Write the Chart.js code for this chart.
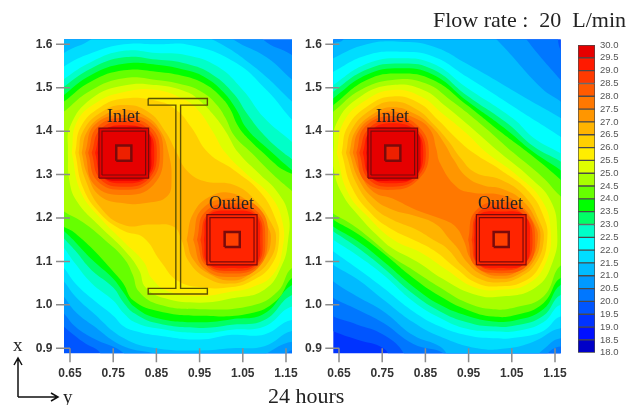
<!DOCTYPE html>
<html>
<head>
<meta charset="utf-8">
<title>Flow rate 20 L/min</title>
<script src="https://cdn.jsdelivr.net/npm/chart.js@4"></script>
<style>
    html, body { margin: 0; padding: 0; background: #fff; }
    body { width: 643px; height: 405px; position: relative; overflow: hidden; }
    canvas { position: absolute; filter: blur(0.6px); }
    #leftChart { left: 0; top: 30px; }
    #rightChart { left: 300px; top: 30px; }
    #barChart { left: 565px; top: 35px; }
    .txt { position: absolute; font-family: "Liberation Serif", serif; color: #222; white-space: pre; line-height: 1; }
    svg { position: absolute; left: 0; top: 0; }
</style>
</head>
<body>
<canvas id="leftChart" width="298" height="375"></canvas>
<canvas id="rightChart" width="278" height="375"></canvas>
<canvas id="barChart" width="78" height="330"></canvas>

<div class="txt" style="left:433px;top:9px;font-size:22px">Flow rate :  20  L/min</div>
<div class="txt" style="left:107px;top:107px;font-size:18px">Inlet</div>
<div class="txt" style="left:209px;top:194px;font-size:18px">Outlet</div>
<div class="txt" style="left:376px;top:107px;font-size:18px">Inlet</div>
<div class="txt" style="left:478px;top:194px;font-size:18px">Outlet</div>
<div class="txt" style="left:268px;top:385px;font-size:22px">24 hours</div>
<div class="txt" style="left:13px;top:335px;font-size:19px">x</div>
<div class="txt" style="left:63px;top:387px;font-size:19px">y</div>
<svg width="80" height="405">
    <path d="M18 397V359M14 365L18 358L22 365M18 397H57M51 393L58 397L51 401" fill="none" stroke="#111" stroke-width="1.5"/>
</svg>

<script>
const xTicks = [0.65, 0.75, 0.85, 0.95, 1.05, 1.15];
const yTicks = [0.9, 1.0, 1.1, 1.2, 1.3, 1.4, 1.5, 1.6];
const legendTicks = [18, 18.5, 19, 19.5, 20, 20.5, 21, 21.5, 22, 22.5, 23, 23.5, 24, 24.5, 25, 25.5, 26, 26.5, 27, 27.5, 28, 28.5, 29, 29.5, 30];

// one colour per 0.5 band, starting at 18.0-18.5
const bandColors = ['#0000c8', '#0010ff', '#0033ff', '#0055ff', '#0077ff', '#0099ff', '#00bbff', '#00ddff',
    '#00ffff', '#00ffc8', '#00ff66', '#00ff00', '#66ff00', '#a8ff00', '#deff00', '#ffee00',
    '#ffd000', '#ffb400', '#ff9600', '#ff7800', '#ff5a00', '#ff3a00', '#ff1a00', '#e60000'];

// contour outlines, x,y,x,y... the region inside is hotter than the level
// left panel
const L195 = [.62,1.65, 1.19,1.65, 1.19,.87, .62,.87];
const L20 = [.62,1.65, 1.19,1.65, 1.19,.87, .70,.87, .72,.888, .68,.915, .636,.95, .62,.965];
const L205 = [.62,1.65, 1.08,1.65, 1.097,1.611, 1.164,1.575, 1.19,1.55, 1.19,.885, 1.164,.896, 1.13,.87, .76,.87, .775,.888, .70,.925, .662,.95, .636,.98, .62,.995];
const L21 = [.62,1.60, .636,1.611, .65,1.64, 1.0,1.64, 1.028,1.611, 1.105,1.57, 1.164,1.518, 1.19,1.495, 1.19,.90, 1.164,.915, 1.10,.885, 1.08,.87, .83,.87, .85,.885, .775,.904, .70,.955, .662,.985, .636,1.019, .62,1.035];
const L215 = [.62,1.56, .636,1.58, .70,1.612, .72,1.64, .90,1.64, .98,1.611, 1.074,1.55, 1.164,1.468, 1.19,1.44, 1.19,.925, 1.164,.94, 1.10,.905, 1.025,.90, .95,.895, .85,.90, .775,.923, .70,.985, .662,1.02, .636,1.054, .62,1.07];
const L22 = [.62,1.53, .636,1.549, .70,1.58, .775,1.60, .85,1.60, .93,1.598, 1.03,1.56, 1.105,1.495, 1.164,1.426, 1.19,1.40, 1.19,.945, 1.164,.965, 1.10,.932, 1.025,.931, .95,.92, .85,.93, .80,.94, .775,.95, .75,.975, .70,1.015, .662,1.05, .636,1.085, .62,1.10];
const L225 = [.62,1.505, .636,1.52, .70,1.56, .775,1.585, .85,1.58, .92,1.575, .99,1.55, 1.05,1.495, 1.10,1.43, 1.164,1.375, 1.19,1.35, 1.19,.975, 1.164,.996, 1.10,.95, 1.025,.943, .95,.935, .85,.946, .80,.96, .775,.98, .75,1.01, .70,1.05, .662,1.095, .636,1.131, .62,1.15];
const L23 = [.62,1.485, .636,1.502, .70,1.545, .775,1.57, .85,1.565, .92,1.555, .98,1.53, 1.03,1.485, 1.06,1.44, 1.10,1.39, 1.144,1.35, 1.164,1.335, 1.19,1.31, 1.19,1.005, 1.164,1.023, 1.10,.965, 1.025,.954, .95,.947, .85,.958, .80,.98, .775,1.004, .75,1.04, .70,1.08, .662,1.125, .636,1.153, .62,1.17];
const L235 = [.62,1.465, .636,1.483, .70,1.53, .775,1.555, .85,1.553, .92,1.54, .966,1.522, 1.005,1.49, 1.035,1.45, 1.06,1.405, 1.113,1.355, 1.164,1.31, 1.19,1.29, 1.19,1.03, 1.164,1.046, 1.10,.98, 1.025,.967, .95,.96, .85,.97, .80,.995, .775,1.027, .75,1.06, .70,1.105, .662,1.145, .636,1.17, .62,1.185];
const L24 = [.62,1.455, .636,1.468, .70,1.515, .775,1.54, .85,1.537, .92,1.525, .966,1.506, 1.0,1.478, 1.02,1.452, 1.04,1.41, 1.065,1.38, 1.097,1.35, 1.13,1.32, 1.18,1.28, 1.18,1.05, 1.164,1.062, 1.128,1.01, 1.066,.98, .951,.975, .858,.985, .797,1.01, .773,1.05, .75,1.077, .704,1.127, .662,1.165, .62,1.2];
const L245 = [.62,1.43, .636,1.445, .70,1.495, .775,1.522, .85,1.518, .92,1.505, .96,1.487, .99,1.46, 1.01,1.43, 1.03,1.39, 1.07,1.35, 1.12,1.30, 1.164,1.262, 1.19,1.24, 1.19,1.07, 1.164,1.085, 1.13,1.03, 1.07,.998, .95,.99, .858,1.0, .81,1.03, .795,1.07, .775,1.107, .73,1.15, .68,1.19, .636,1.215, .62,1.23];
const L25 = [.645,1.35, .65,1.41, .70,1.475, .775,1.505, .85,1.506, .92,1.49, .95,1.47, .98,1.44, 1.01,1.40, 1.04,1.35, 1.09,1.30, 1.13,1.26, 1.155,1.21, 1.155,1.15, 1.14,1.09, 1.10,1.035, 1.025,1.015, .95,1.005, .87,1.015, .825,1.04, .81,1.08, .775,1.127, .72,1.18, .665,1.24, .648,1.29];
const L255 = [.654,1.35, .665,1.42, .71,1.465, .775,1.49, .85,1.495, .91,1.475, .945,1.45, .98,1.40, 1.01,1.35, 1.06,1.30, 1.115,1.25, 1.142,1.19, 1.142,1.13, 1.12,1.07, 1.07,1.04, 1.025,1.031, .95,1.02, .88,1.03, .84,1.06, .82,1.10, .775,1.145, .72,1.20, .675,1.26];
const L26 = [.662,1.35, .675,1.41, .72,1.455, .775,1.475, .85,1.47, .895,1.45, .93,1.41, .97,1.35, 1.03,1.31, 1.09,1.26, 1.125,1.20, 1.134,1.15, 1.115,1.09, 1.07,1.055, 1.025,1.041, .96,1.04, .90,1.055, .86,1.10, .82,1.155, .775,1.17, .72,1.21, .68,1.27];
const L265 = [.67,1.35, .68,1.40, .725,1.445, .775,1.46, .83,1.445, .87,1.40, .897,1.35, .92,1.31, .96,1.285, 1.03,1.276, 1.08,1.24, 1.115,1.19, 1.127,1.15, 1.11,1.10, 1.07,1.065, 1.025,1.049, .97,1.06, .925,1.10, .908,1.15, .89,1.18, .84,1.185, .775,1.184, .72,1.225, .685,1.29];
const L27a = [.677,1.35, .69,1.40, .73,1.437, .775,1.449, .825,1.435, .86,1.40, .878,1.35, .885,1.29, .875,1.25, .83,1.235, .775,1.234, .72,1.25, .69,1.30];
const L27b = [.92,1.15, .935,1.21, .975,1.25, 1.025,1.257, 1.07,1.23, 1.105,1.185, 1.115,1.15, 1.10,1.105, 1.065,1.07, 1.025,1.056, .975,1.07, .935,1.105];
const L275a = [.685,1.35, .707,1.414, .775,1.437, .843,1.414, .866,1.35, .843,1.276, .775,1.253, .707,1.276];
const L275b = [.935,1.15, .955,1.22, 1.025,1.245, 1.09,1.22, 1.108,1.15, 1.085,1.085, 1.025,1.064, .96,1.085];
const L28a = [.692,1.35, .713,1.409, .775,1.43, .837,1.409, .858,1.35, .837,1.286, .775,1.265, .713,1.286];
const L28b = [.944,1.15, .962,1.213, 1.025,1.234, 1.085,1.213, 1.102,1.15, 1.085,1.09, 1.025,1.072, .965,1.09];
const L285a = [.70,1.35, .72,1.404, .775,1.422, .832,1.404, .851,1.35, .832,1.29, .775,1.272, .72,1.29];
const L285b = [.952,1.15, .968,1.208, 1.025,1.226, 1.082,1.208, 1.096,1.15, 1.082,1.093, 1.025,1.078, .968,1.093];
const L29a = [.708,1.35, .725,1.398, .775,1.414, .83,1.398, .845,1.35, .83,1.295, .775,1.28, .725,1.295];
const L29b = [.96,1.15, .97,1.205, 1.025,1.217, 1.08,1.205, 1.09,1.15, 1.08,1.095, 1.025,1.085, .97,1.095];
const L295a = [.714,1.35, .725,1.40, .775,1.41, .828,1.40, .838,1.35, .828,1.297, .775,1.286, .725,1.297];

// right panel
const R190 = [.62,1.65, 1.19,1.65, 1.19,.87, .62,.87];
const R195 = [.62,1.65, 1.19,1.65, 1.19,.87, .78,.87, .753,.90, .691,.92, .637,.939, .62,.95];
const R20 = [.62,1.65, 1.14,1.65, 1.163,1.587, 1.19,1.56, 1.19,.87, .79,.87, .80,.888, .753,.931, .691,.955, .637,.973, .62,.985];
const R205 = [.62,1.65, 1.06,1.65, 1.084,1.611, 1.163,1.518, 1.19,1.49, 1.19,.89, 1.163,.904, 1.13,.885, 1.13,.87, .88,.87, .891,.889, .822,.91, .753,.958, .691,.99, .637,1.016, .62,1.03];
const R21 = [.62,1.59, .637,1.602, .66,1.611, .66,1.64, .98,1.64, 1.015,1.611, 1.121,1.497, 1.163,1.468, 1.19,1.44, 1.19,.905, 1.163,.923, 1.12,.895, 1.09,.87, .92,.87, .884,.904, .822,.93, .753,.985, .691,1.02, .637,1.054, .62,1.07];
const R215 = [.62,1.555, .637,1.568, .714,1.60, .791,1.606, .868,1.595, .946,1.555, 1.093,1.47, 1.163,1.43, 1.19,1.41, 1.19,.93, 1.163,.946, 1.10,.915, 1.04,.90, .97,.90, .884,.927, .822,.96, .753,1.012, .691,1.06, .637,1.092, .62,1.105];
const R22 = [.62,1.525, .637,1.537, .714,1.575, .791,1.583, .868,1.572, .946,1.525, 1.07,1.446, 1.163,1.387, 1.19,1.365, 1.19,.955, 1.163,.973, 1.123,.94, 1.061,.925, 1.007,.923, .946,.93, .884,.95, .822,.985, .753,1.039, .691,1.085, .637,1.123, .62,1.135];
const R225 = [.62,1.49, .637,1.506, .714,1.555, .791,1.568, .868,1.555, .946,1.50, 1.053,1.429, 1.10,1.385, 1.163,1.349, 1.19,1.33, 1.19,.98, 1.163,1.0, 1.123,.96, 1.061,.94, 1.007,.939, .946,.945, .884,.97, .822,1.008, .753,1.069, .691,1.115, .637,1.15, .62,1.165];
const R23 = [.62,1.475, .637,1.491, .714,1.542, .791,1.556, .868,1.542, .946,1.482, 1.041,1.417, 1.10,1.365, 1.163,1.33, 1.19,1.31, 1.19,1.005, 1.163,1.023, 1.123,.975, 1.061,.953, 1.007,.95, .946,.96, .884,.985, .822,1.025, .753,1.085, .691,1.133, .637,1.169, .62,1.18];
const R235 = [.62,1.46, .637,1.476, .714,1.53, .791,1.545, .868,1.53, .946,1.47, 1.032,1.408, 1.10,1.352, 1.163,1.31, 1.19,1.285, 1.19,1.03, 1.163,1.046, 1.123,.99, 1.061,.965, 1.007,.962, .946,.975, .884,1.0, .822,1.042, .753,1.10, .691,1.148, .637,1.18, .62,1.195];
const R24 = [.62,1.445, .637,1.46, .714,1.518, .791,1.533, .868,1.518, .946,1.46, 1.023,1.399, 1.10,1.341, 1.163,1.288, 1.19,1.26, 1.19,1.04, 1.163,1.062, 1.123,1.004, 1.061,.977, 1.007,.973, .946,.989, .884,1.02, .822,1.062, .753,1.119, .691,1.165, .637,1.196, .62,1.21];
const R245 = [.62,1.43, .637,1.445, .70,1.495, .774,1.518, .85,1.51, .91,1.47, .98,1.415, 1.054,1.35, 1.12,1.295, 1.163,1.25, 1.19,1.23, 1.19,1.07, 1.163,1.09, 1.124,1.02, 1.061,.995, 1.007,.99, .946,1.005, .884,1.04, .822,1.08, .774,1.11, .726,1.15, .68,1.185, .637,1.21, .62,1.22];
const R25 = [.636,1.35, .645,1.42, .70,1.48, .774,1.506, .845,1.495, .90,1.455, .96,1.405, 1.023,1.35, 1.09,1.295, 1.14,1.24, 1.155,1.17, 1.145,1.10, 1.105,1.04, 1.025,1.019, .96,1.025, .89,1.06, .83,1.10, .774,1.13, .749,1.15, .70,1.20, .655,1.26, .636,1.32];
const R255 = [.645,1.35, .66,1.42, .71,1.47, .774,1.495, .84,1.48, .89,1.44, .945,1.395, .992,1.35, 1.06,1.30, 1.12,1.24, 1.14,1.17, 1.13,1.10, 1.09,1.05, 1.025,1.035, .965,1.04, .90,1.08, .84,1.12, .776,1.15, .72,1.20, .67,1.26];
const R26 = [.656,1.35, .67,1.41, .72,1.46, .774,1.48, .835,1.465, .88,1.425, .92,1.385, .961,1.35, 1.025,1.31, 1.09,1.26, 1.125,1.20, 1.132,1.15, 1.115,1.09, 1.08,1.055, 1.025,1.043, .97,1.05, .92,1.085, .87,1.125, .822,1.15, .774,1.173, .725,1.21, .68,1.27];
const R265 = [.666,1.35, .68,1.405, .725,1.45, .774,1.468, .83,1.45, .87,1.415, .905,1.375, .93,1.34, .965,1.305, 1.025,1.288, 1.08,1.25, 1.115,1.19, 1.124,1.15, 1.105,1.095, 1.07,1.065, 1.025,1.052, .975,1.06, .935,1.09, .90,1.13, .868,1.15, .825,1.175, .774,1.196, .73,1.225, .69,1.28];
const R27 = [.674,1.35, .688,1.40, .73,1.44, .774,1.455, .825,1.44, .865,1.41, .895,1.37, .915,1.335, .945,1.295, .985,1.275, 1.025,1.268, 1.075,1.24, 1.108,1.19, 1.116,1.15, 1.10,1.10, 1.065,1.07, 1.025,1.06, .98,1.07, .945,1.10, .925,1.13, .907,1.15, .875,1.185, .825,1.205, .774,1.219, .73,1.245, .695,1.29];
const R275 = [.682,1.35, .695,1.40, .735,1.435, .774,1.445, .825,1.43, .861,1.403, .875,1.36, .884,1.326, .922,1.272, .96,1.258, 1.025,1.253, 1.07,1.23, 1.103,1.185, 1.11,1.15, 1.095,1.105, 1.06,1.075, 1.025,1.067, .985,1.075, .955,1.105, .938,1.15, .92,1.18, .892,1.196, .83,1.218, .774,1.245, .73,1.26, .70,1.30];
const R28a = [.69,1.35, .71,1.41, .774,1.435, .835,1.41, .858,1.35, .835,1.29, .774,1.265, .71,1.285];
const R28b = [.949,1.15, .965,1.215, 1.025,1.238, 1.085,1.21, 1.104,1.15, 1.085,1.09, 1.025,1.073, .965,1.09];
const R285a = [.697,1.35, .718,1.405, .774,1.426, .83,1.405, .851,1.35, .83,1.292, .774,1.272, .718,1.29];
const R285b = [.957,1.15, .97,1.21, 1.025,1.226, 1.08,1.205, 1.098,1.15, 1.08,1.095, 1.025,1.079, .97,1.095];
const R29a = [.705,1.35, .722,1.40, .774,1.418, .828,1.40, .845,1.35, .828,1.297, .774,1.28, .722,1.295];
const R29b = [.962,1.15, .972,1.205, 1.025,1.215, 1.08,1.205, 1.092,1.15, 1.08,1.095, 1.025,1.085, .972,1.095];
const R295a = [.713,1.35, .722,1.40, .774,1.409, .828,1.40, .839,1.35, .828,1.297, .774,1.286, .722,1.295];

const leftRings = [[19.5, L195], [20, L20], [20.5, L205], [21, L21], [21.5, L215], [22, L22], [22.5, L225], [23, L23], [23.5, L235], [24, L24], [24.5, L245], [25, L25], [25.5, L255], [26, L26], [26.5, L265], [27, L27a], [27, L27b], [27.5, L275a], [27.5, L275b], [28, L28a], [28, L28b], [28.5, L285a], [28.5, L285b], [29, L29a], [29, L29b], [29.5, L295a]];
const rightRings = [[19, R190], [19.5, R195], [20, R20], [20.5, R205], [21, R21], [21.5, R215], [22, R22], [22.5, R225], [23, R23], [23.5, R235], [24, R24], [24.5, R245], [25, R25], [25.5, R255], [26, R26], [26.5, R265], [27, R27], [27.5, R275], [28, R28a], [28, R28b], [28.5, R285a], [28.5, R285b], [29, R29a], [29, R29b], [29.5, R295a]];

// heat sources: x0,y0,x1,y1
const leftInlet = [.717, 1.292, .832, 1.407];
const leftInletIn = [.724, 1.299, .825, 1.400];
const leftInletCore = [.757, 1.332, .792, 1.367];
const leftOutlet = [.967, 1.092, 1.083, 1.208];
const leftOutletIn = [.974, 1.099, 1.076, 1.201];
const leftOutletCore = [1.008, 1.133, 1.043, 1.168];
const rightInlet = [.717, 1.292, .832, 1.407];
const rightInletIn = [.724, 1.299, .825, 1.400];
const rightInletCore = [.757, 1.332, .792, 1.367];
const rightOutlet = [.968, 1.092, 1.083, 1.208];
const rightOutletIn = [.975, 1.099, 1.076, 1.201];
const rightOutletCore = [1.008, 1.133, 1.043, 1.168];

// I shaped baffle in the left panel
const baffle = [.831,1.475, .968,1.475, .968,1.46, .906,1.46, .906,1.038, .968,1.038, .968,1.025, .831,1.025, .831,1.038, .895,1.038, .895,1.46, .831,1.46, .831,1.475];

function toPoints(flat) {
    const pts = [];
    for (let i = 0; i < flat.length; i += 2) {
        pts.push({ x: flat[i], y: flat[i + 1] });
    }
    return pts;
}

function ringDataset(ring) {
    const pts = toPoints(ring[1]);
    pts.push(pts[0]);
    return {
        data: pts,
        showLine: true,
        fill: 'shape',
        backgroundColor: bandColors[(ring[0] - 18) * 2],
        borderWidth: 0,
        pointRadius: 0,
        tension: 0.45,
        capBezierPoints: false
    };
}

function boxDataset(b, lineColor, width, fillColor) {
    return {
        data: toPoints([b[0], b[1], b[2], b[1], b[2], b[3], b[0], b[3], b[0], b[1]]),
        showLine: true,
        fill: fillColor ? 'shape' : false,
        backgroundColor: fillColor || 'transparent',
        borderColor: lineColor,
        borderWidth: width,
        pointRadius: 0,
        tension: 0
    };
}

// ticks of the original cross the axis line, chart.js only draws them outwards
const crossTicks = {
    id: 'crossTicks',
    afterDraw(chart) {
        const ctx = chart.ctx;
        const area = chart.chartArea;
        ctx.save();
        ctx.strokeStyle = '#8c8c8c';
        ctx.lineWidth = 1.5;
        ctx.beginPath();
        xTicks.forEach(v => {
            const px = chart.scales.x.getPixelForValue(v);
            ctx.moveTo(px, area.bottom - 5);
            ctx.lineTo(px, area.bottom + 9);
        });
        yTicks.forEach(v => {
            const py = chart.scales.y.getPixelForValue(v);
            ctx.moveTo(area.left - 8, py);
            ctx.lineTo(area.left + 6, py);
        });
        ctx.stroke();
        ctx.restore();
    }
};

function noOverhang(s) {
    s.paddingLeft = 0;
    s.paddingRight = 0;
    s.paddingTop = 0;
    s.paddingBottom = 0;
}

function heatChart(id, rings, overlays, xMin, xMax, axisWidth, padRight) {
    // datasets are painted last to first, so the hottest and the overlays go first
    const datasets = overlays.concat(rings.map(ringDataset).reverse());
    return new Chart(document.getElementById(id).getContext('2d'), {
        type: 'scatter',
        data: { datasets: datasets },
        plugins: [crossTicks],
        options: {
            responsive: false,
            animation: false,
            events: [],
            layout: { padding: { top: 9.5, right: padRight, left: 0, bottom: 0 } },
            plugins: { legend: { display: false }, tooltip: { enabled: false } },
            scales: {
                x: {
                    type: 'linear',
                    min: xMin,
                    max: xMax,
                    grid: { display: false, drawTicks: false },
                    border: { display: false },
                    afterBuildTicks: s => { s.ticks = xTicks.map(v => ({ value: v })); },
                    afterFit: s => { s.height = 51.7; noOverhang(s); },
                    ticks: {
                        autoSkip: false,
                        maxRotation: 0,
                        padding: 13,
                        color: '#333',
                        font: { family: '"Liberation Sans"', size: 12, weight: 'bold' },
                        callback: v => v.toFixed(2)
                    }
                },
                y: {
                    type: 'linear',
                    min: 0.8885,
                    max: 1.611,
                    grid: { display: false, drawTicks: false },
                    border: { display: false },
                    afterBuildTicks: s => { s.ticks = yTicks.map(v => ({ value: v })); },
                    afterFit: s => { s.width = axisWidth; noOverhang(s); },
                    ticks: {
                        autoSkip: false,
                        padding: 11.5,
                        color: '#333',
                        font: { family: '"Liberation Sans"', size: 12, weight: 'bold' },
                        callback: v => v.toFixed(1)
                    }
                }
            }
        }
    });
}

const darkRed = '#7a0a0a';

const leftOverlays = [
    { data: toPoints(baffle), showLine: true, fill: false, borderColor: '#5e5200', borderWidth: 1.4, pointRadius: 0, tension: 0 },
    boxDataset(leftInletCore, darkRed, 2.5, '#ee2000'),
    boxDataset(leftInletIn, darkRed, 1.2, '#e60000'),
    boxDataset(leftInlet, darkRed, 1.2, '#e60000'),
    boxDataset(leftOutletCore, darkRed, 2.5, '#ff4000'),
    boxDataset(leftOutletIn, darkRed, 1.2, '#ff2400'),
    boxDataset(leftOutlet, darkRed, 1.2, '#ff2400')
];

const rightOverlays = [
    boxDataset(rightInletCore, darkRed, 2.5, '#ee2000'),
    boxDataset(rightInletIn, darkRed, 1.2, '#e60000'),
    boxDataset(rightInlet, darkRed, 1.2, '#e60000'),
    boxDataset(rightOutletCore, darkRed, 2.5, '#ff4000'),
    boxDataset(rightOutletIn, darkRed, 1.2, '#ff2400'),
    boxDataset(rightOutlet, darkRed, 1.2, '#ff2400')
];

heatChart('leftChart', leftRings, leftOverlays, 0.6361, 1.1639, 64, 6);
heatChart('rightChart', rightRings, rightOverlays, 0.6368, 1.1632, 33.3, 17.3);

// colour legend, one floating block per band
new Chart(document.getElementById('barChart').getContext('2d'), {
    type: 'bar',
    data: {
        labels: [''],
        datasets: bandColors.map((c, i) => ({
            data: [[legendTicks[i], legendTicks[i + 1]]],
            backgroundColor: c,
            borderColor: '#4a4a4a',
            borderWidth: 1,
            borderSkipped: false,
            categoryPercentage: 1,
            barPercentage: 1
        }))
    },
    options: {
        responsive: false,
        animation: false,
        events: [],
        layout: { padding: { top: 10, bottom: 12.3, left: 13, right: 0 } },
        plugins: { legend: { display: false }, tooltip: { enabled: false } },
        scales: {
            x: { stacked: true, display: false },
            y: {
                position: 'right',
                min: 18,
                max: 30,
                grid: { display: false, drawTicks: false },
                border: { display: false },
                afterBuildTicks: s => { s.ticks = legendTicks.map(v => ({ value: v })); },
                afterFit: s => { s.width = 48; noOverhang(s); },
                ticks: {
                    autoSkip: false,
                    padding: 5,
                    color: '#555',
                    font: { family: '"Liberation Sans"', size: 9.5 },
                    callback: v => v.toFixed(1)
                }
            }
        }
    }
});
</script>
</body>
</html>
